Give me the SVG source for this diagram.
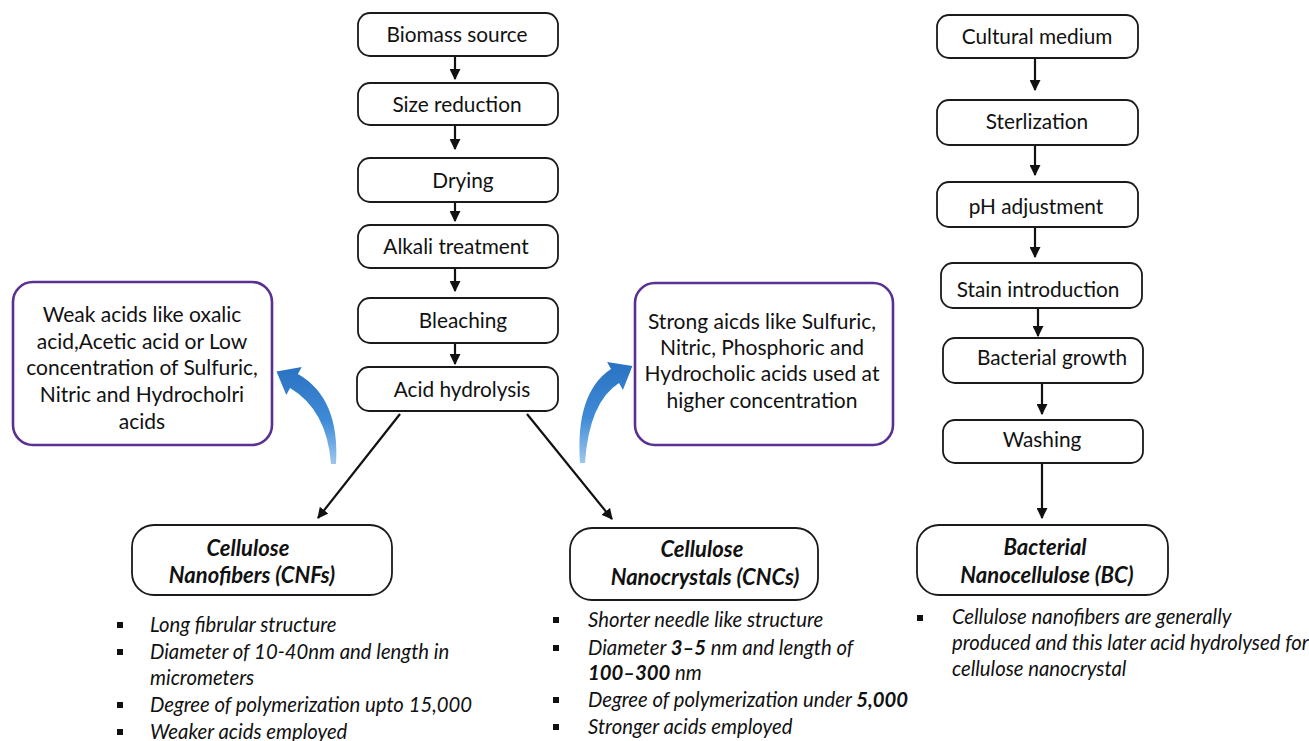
<svg xmlns="http://www.w3.org/2000/svg" width="1309" height="741" viewBox="0 0 1309 741">
<defs>
<style>
.box{fill:#fff;stroke:#1a1a1a;stroke-width:1.8}
.pbox{fill:#fff;stroke:#5a3191;stroke-width:2.6}
.t{font-family:Lato,"Open Sans",sans-serif;font-size:20.8px;fill:#111;text-anchor:middle}
.pt{font-family:Lato,"Open Sans",sans-serif;font-size:21px;fill:#111;text-anchor:middle}
.bt{font-family:Lato,"Open Sans",sans-serif;font-size:22px;font-weight:bold;font-style:italic;fill:#111;text-anchor:middle}
.li{font-family:Lato,"Open Sans",sans-serif;font-size:20.3px;font-style:italic;fill:#111}
.b{font-weight:bold}
.ln{stroke:#111;stroke-width:2.2;fill:none}
.bul{fill:#111}
</style>
<marker id="ah" viewBox="0 0 10 10" refX="9" refY="5" markerWidth="5" markerHeight="5" orient="auto" markerUnits="strokeWidth">
<path d="M0,0 L10,5 L0,10 Z" fill="#111"/>
</marker>
<linearGradient id="bg" x1="0" y1="1" x2="0" y2="0">
<stop offset="0" stop-color="#9cc8ee"/>
<stop offset="0.45" stop-color="#3f8ad6"/>
<stop offset="1" stop-color="#2a72c2"/>
</linearGradient>
</defs>
<rect width="1309" height="741" fill="#fff"/>

<g id="connectors">
<line class="ln" x1="455" y1="56" x2="455" y2="79" marker-end="url(#ah)"/>
<line class="ln" x1="455" y1="125" x2="455" y2="149" marker-end="url(#ah)"/>
<line class="ln" x1="455" y1="202" x2="455" y2="221" marker-end="url(#ah)"/>
<line class="ln" x1="455" y1="268" x2="455" y2="291" marker-end="url(#ah)"/>
<line class="ln" x1="455" y1="343" x2="455" y2="364" marker-end="url(#ah)"/>
<line class="ln" x1="400" y1="414" x2="318" y2="518" stroke-width="2.5" marker-end="url(#ah)"/>
<line class="ln" x1="527" y1="414" x2="612" y2="519" stroke-width="2.5" marker-end="url(#ah)"/>
<line class="ln" x1="1035" y1="58" x2="1035" y2="90" marker-end="url(#ah)"/>
<line class="ln" x1="1035" y1="145" x2="1035" y2="175" marker-end="url(#ah)"/>
<line class="ln" x1="1035" y1="227" x2="1035" y2="257" marker-end="url(#ah)"/>
<line class="ln" x1="1038" y1="308" x2="1038" y2="336" marker-end="url(#ah)"/>
<line class="ln" x1="1042" y1="383" x2="1042" y2="414" marker-end="url(#ah)"/>
<line class="ln" x1="1042" y1="463" x2="1042" y2="518" stroke-width="2.6" marker-end="url(#ah)"/>
<path d="M 336 464 Q 340 398 297.9 374 L 301.7 367 L 276.5 371.4 L 286.3 395 L 290.1 388 Q 327 410 331 464 Z" fill="url(#bg)"/>
<path d="M 580 463 Q 575 393 611 369.1 L 607.1 362.1 L 632.4 366.1 L 622.9 389.9 L 619 382.9 Q 589 402 585 463 Z" fill="url(#bg)"/>
</g>

<g id="n-biomass"><rect class="box" x="358" y="13" width="200" height="43" rx="12"/><text class="t" x="457" y="42">Biomass source</text></g>
<g id="n-size"><rect class="box" x="358" y="83" width="200" height="42" rx="12"/><text class="t" x="457" y="112">Size reduction</text></g>
<g id="n-drying"><rect class="box" x="358" y="158" width="200" height="44" rx="12"/><text class="t" x="463" y="188">Drying</text></g>
<g id="n-alkali"><rect class="box" x="358" y="225" width="200" height="43" rx="12"/><text class="t" x="456" y="254">Alkali treatment</text></g>
<g id="n-bleach"><rect class="box" x="358" y="298" width="200" height="45" rx="12"/><text class="t" x="463" y="328">Bleaching</text></g>
<g id="n-acid"><rect class="box" x="357" y="367" width="201" height="44" rx="12"/><text class="t" x="462" y="397">Acid hydrolysis</text></g>

<g id="n-weak"><rect class="pbox" x="13" y="282" width="259" height="163" rx="20"/>
<text class="pt" x="142" y="322">Weak acids like oxalic</text>
<text class="pt" x="142" y="349">acid,Acetic acid or Low</text>
<text class="pt" x="142" y="375">concentration of Sulfuric,</text>
<text class="pt" x="142" y="402">Nitric and Hydrocholri</text>
<text class="pt" x="142" y="429">acids</text>
</g>
<g id="n-strong"><rect class="pbox" x="635" y="283" width="258" height="162" rx="20"/>
<text class="pt" x="762" y="329">Strong aicds like Sulfuric,</text>
<text class="pt" x="762" y="355">Nitric, Phosphoric and</text>
<text class="pt" x="762" y="381">Hydrocholic acids used at</text>
<text class="pt" x="762" y="408">higher concentration</text>
</g>

<g id="n-cult"><rect class="box" x="937" y="15" width="201" height="43" rx="12"/><text class="t" x="1037" y="44">Cultural medium</text></g>
<g id="n-ster"><rect class="box" x="937" y="100" width="201" height="45" rx="12"/><text class="t" x="1037" y="129">Sterlization</text></g>
<g id="n-ph"><rect class="box" x="937" y="182" width="201" height="45" rx="12"/><text class="t" x="1036" y="214">pH adjustment</text></g>
<g id="n-stain"><rect class="box" x="941" y="263" width="201" height="45" rx="12"/><text class="t" x="1038" y="297">Stain introduction</text></g>
<g id="n-bact"><rect class="box" x="943" y="338" width="200" height="45" rx="12"/><text class="t" x="1052" y="365">Bacterial growth</text></g>
<g id="n-wash"><rect class="box" x="943" y="420" width="200" height="43" rx="12"/><text class="t" x="1042" y="447">Washing</text></g>

<g id="n-cnf"><rect class="box" x="132" y="525" width="260" height="70" rx="22"/>
<text class="bt" x="248" y="556">Cellulose</text>
<text class="bt" x="252" y="583">Nanofibers (CNFs)</text></g>
<g id="n-cnc"><rect class="box" x="570" y="528" width="248" height="72" rx="22"/>
<text class="bt" x="702" y="557">Cellulose</text>
<text class="bt" x="705" y="585">Nanocrystals (CNCs)</text></g>
<g id="n-bc"><rect class="box" x="917" y="525" width="251" height="70" rx="22"/>
<text class="bt" x="1045" y="555">Bacterial</text>
<text class="bt" x="1047" y="583">Nanocellulose (BC)</text></g>

<g id="list-cnf">
<rect class="bul" x="117" y="622" width="6" height="6"/>
<rect class="bul" x="117" y="649" width="6" height="6"/>
<rect class="bul" x="117" y="702" width="6" height="6"/>
<rect class="bul" x="117" y="729" width="6" height="6"/>
<text class="li" x="150" y="632">Long fibrular structure</text>
<text class="li" x="150" y="659">Diameter of 10-40nm and length in</text>
<text class="li" x="150" y="685">micrometers</text>
<text class="li" x="150" y="712">Degree of polymerization upto 15,000</text>
<text class="li" x="150" y="739">Weaker acids employed</text>
</g>
<g id="list-cnc">
<rect class="bul" x="553" y="617" width="6" height="6"/>
<rect class="bul" x="553" y="645" width="6" height="6"/>
<rect class="bul" x="553" y="697" width="6" height="6"/>
<rect class="bul" x="553" y="724" width="6" height="6"/>
<text class="li" x="588" y="627">Shorter needle like structure</text>
<text class="li" x="588" y="655">Diameter <tspan class="b">3–5</tspan> nm and length of</text>
<text class="li" x="588" y="680"><tspan class="b">100–300</tspan> nm</text>
<text class="li" x="588" y="707">Degree of polymerization under <tspan class="b">5,000</tspan></text>
<text class="li" x="588" y="734">Stronger acids employed</text>
</g>
<g id="list-bc">
<rect class="bul" x="917" y="615" width="6" height="6"/>
<text class="li" x="952" y="624">Cellulose nanofibers are generally</text>
<text class="li" x="952" y="650">produced and this later acid hydrolysed for</text>
<text class="li" x="952" y="676">cellulose nanocrystal</text>
</g>
</svg>
